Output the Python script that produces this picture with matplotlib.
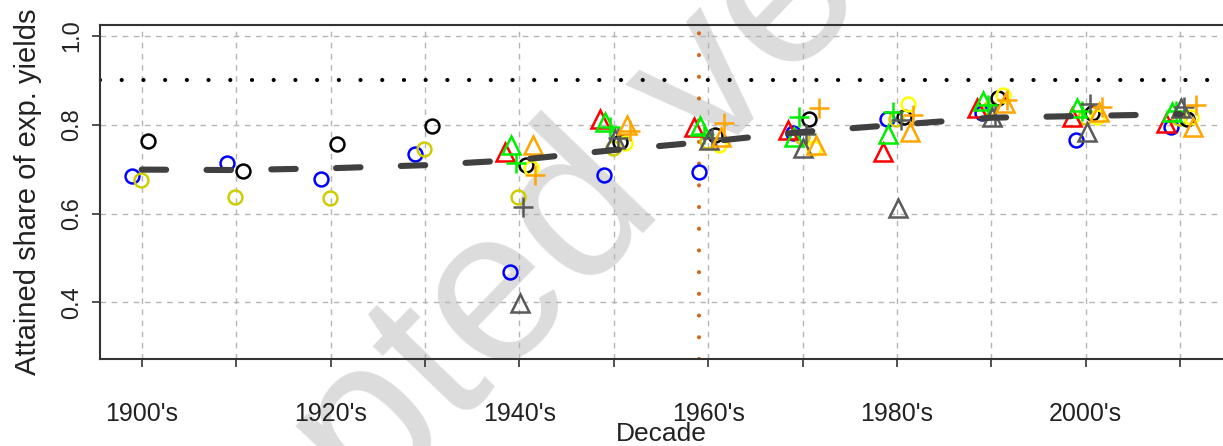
import numpy as np
import matplotlib
matplotlib.use('Agg')
import matplotlib.pyplot as plt

plt.rcParams['font.family'] = ['Liberation Sans', 'DejaVu Sans']

nan = np.nan
decades = [1900, 1910, 1920, 1930, 1940, 1950, 1960, 1970, 1980, 1990, 2000, 2010]
tick_labels = ["1900's", '', "1920's", '', "1940's", '', "1960's", '', "1980's", '', "2000's", '']

trend = [0.699, 0.698, 0.702, 0.709, 0.721, 0.743, 0.762, 0.784, 0.800, 0.816, 0.820, 0.824]

blue_circle = [0.684, 0.715, 0.677, 0.735, 0.469, 0.687, 0.693, 0.781, 0.814, 0.826, 0.765, 0.795]
olive_circle = [0.676, 0.638, 0.635, 0.745, 0.638, 0.747, 0.763, 0.773, 0.814, 0.838, 0.818, 0.815]
black_circle = [0.763, 0.696, 0.756, 0.797, 0.709, 0.762, 0.777, 0.814, 0.818, 0.860, 0.826, 0.814]
yellow_circle = [nan, nan, nan, nan, 0.702, 0.758, 0.754, 0.747, 0.848, 0.867, 0.818, 0.818]
red_tri = [nan, nan, nan, nan, 0.739, 0.813, 0.794, 0.788, 0.739, 0.839, 0.818, 0.803]
green_tri = [nan, nan, nan, nan, 0.754, 0.807, 0.797, 0.773, 0.779, 0.853, 0.837, 0.829]
green_plus = [nan, nan, nan, nan, 0.713, 0.795, 0.780, 0.818, 0.829, 0.845, 0.830, 0.830]
gray_tri = [nan, nan, nan, nan, 0.399, 0.768, 0.765, 0.747, 0.612, 0.818, 0.784, 0.839]
gray_plus = [nan, nan, nan, nan, 0.615, 0.770, 0.770, 0.780, 0.810, 0.820, 0.848, 0.840]
orange_tri = [nan, nan, nan, nan, 0.755, 0.800, 0.773, 0.754, 0.784, 0.850, 0.829, 0.794]
orange_plus = [nan, nan, nan, nan, 0.687, 0.785, 0.803, 0.837, 0.822, 0.856, 0.841, 0.844]

# (values, marker, colour, x shift in years)
series = [
    (blue_circle, 'o', '#0000ff', -1.0),
    (olive_circle, 'o', '#cdcd00', -0.1),
    (black_circle, 'o', 'black', 0.7),
    (yellow_circle, 'o', '#ffff00', 1.2),
    (red_tri, '^', '#ff0000', -1.5),
    (green_tri, '^', '#00ee00', -0.9),
    (green_plus, '+', '#00ee00', -0.4),
    (gray_tri, '^', '#5a5a5a', 0.1),
    (gray_plus, '+', '#5a5a5a', 0.4),
    (orange_tri, '^', '#ffa500', 1.4),
    (orange_plus, '+', '#ffa500', 1.7),
]
sizes = {'o': 10, '^': 13, '+': 15}

fig = plt.figure(figsize=(12.23, 4.46), dpi=100)
ax = fig.add_axes([100 / 1223, 1 - 359 / 446, 1 - 100 / 1223, 334 / 446])
ax.set_facecolor('none')

x = np.array(decades, dtype=float)
for vals, m, c, dx in series:
    ax.plot(x + dx, vals, linestyle='none', marker=m, ms=sizes[m],
            mfc='none', mec=c, mew=1.8, zorder=3)

ax.plot(x, trend, color='#404040', lw=4.4, linestyle=(0, (4.0, 6.6)),
        dash_capstyle='round', zorder=4)
ax.axhline(0.9, color='black', lw=3, linestyle=(0, (0.01, 5.2)),
           dash_capstyle='round', zorder=2)
ax.axvline(1959, color='#d2691e', lw=3.0, linestyle=(0, (0.01, 5.2)),
           dash_capstyle='round', zorder=2)

ax.set_xlim(1895.58, 2014.54)
ax.set_ylim(0.272, 1.025)
ax.set_xticks(decades)
ax.set_xticklabels(tick_labels)
ax.set_yticks([0.4, 0.6, 0.8, 1.0])
ax.set_yticklabels(['0.4', '0.6', '0.8', '1.0'], rotation=90, va='center')
ax.grid(True, color='#b5b5b5', linestyle=(0, (4, 4)), lw=1)
ax.set_axisbelow(True)
ax.tick_params(axis='both', length=6, width=1.2, colors='#333333', labelcolor='#222222')
ax.tick_params(axis='x', labelsize=18, pad=25)
ax.tick_params(axis='y', labelsize=17, pad=6)
for s in ['left', 'top', 'bottom']:
    ax.spines[s].set_linewidth(1.5)
    ax.spines[s].set_color('#333333')
ax.spines['right'].set_visible(False)

ax.set_xlabel('Decade', fontsize=19, color='#222222', labelpad=-3)
ax.set_ylabel('Attained share of exp. yields', fontsize=21, color='#222222', labelpad=14)

fig.text(0.47, 0.50, 'Accepted version', fontsize=158, color='#dcdcdc',
         rotation=46, ha='center', va='center', zorder=-1)

fig.savefig('out.png', dpi=100)
